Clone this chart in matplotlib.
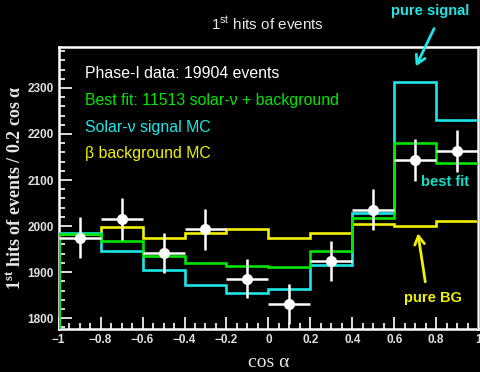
import numpy as np
import matplotlib
matplotlib.use("Agg")
import matplotlib.pyplot as plt
from matplotlib.ticker import MultipleLocator

bin_edges = [-1.0, -0.8, -0.6, -0.4, -0.2, 0.0, 0.2, 0.4, 0.6, 0.8, 1.0]
bin_centers = [-0.9, -0.7, -0.5, -0.3, -0.1, 0.1, 0.3, 0.5, 0.7, 0.9]
data_counts = [1975, 2015, 1942, 1993, 1886, 1831, 1924, 2036, 2143, 2163]
data_errors = [44, 45, 44, 45, 43, 43, 44, 45, 46, 46]
best_fit = [1983, 1967, 1935, 1920, 1913, 1911, 1946, 2018, 2180, 2138]
signal_mc = [1985, 1946, 1904, 1871, 1854, 1864, 1915, 2028, 2312, 2230]
background_mc = [1982, 1998, 1975, 1985, 1993, 1975, 1984, 2004, 2000, 2011]

CYAN = "#1ee6e6"
GREEN = "#00e600"
YELLOW = "#f0f000"
TURQ = "#10e0c8"
sans = ["Liberation Sans", "DejaVu Sans"]
serif = ["Liberation Serif", "DejaVu Serif"]

fig = plt.figure(figsize=(4.81, 3.72), dpi=100, facecolor="black")
ax = fig.add_axes([0.122, 0.115, 0.872, 0.760], facecolor="black")

lw = 1.9
ax.stairs(background_mc, bin_edges, color=YELLOW, lw=lw, zorder=2)
ax.stairs(signal_mc, bin_edges, color=CYAN, lw=lw, zorder=3)
ax.stairs(best_fit, bin_edges, color=GREEN, lw=lw, zorder=4)
ax.errorbar(bin_centers, data_counts, yerr=data_errors, xerr=0.1, fmt="o",
            color="white", ms=7, elinewidth=1.8, capsize=0, zorder=5)

ax.set_xlim(-1, 1)
ax.set_ylim(1776, 2390)
ax.xaxis.set_major_locator(MultipleLocator(0.2))
ax.xaxis.set_minor_locator(MultipleLocator(0.05))
ax.yaxis.set_major_locator(MultipleLocator(100))
ax.yaxis.set_minor_locator(MultipleLocator(20))
ax.tick_params(which="both", direction="in", colors="white", width=1.2,
               top=False, right=False, labelsize=8.5)
ax.tick_params(which="major", length=9)
ax.tick_params(which="minor", length=4.5)
ax.set_xticks([-1, -0.8, -0.6, -0.4, -0.2, 0, 0.2, 0.4, 0.6, 0.8, 1])
ax.set_xticklabels(["\u22121", "\u22120.8", "\u22120.6", "\u22120.4", "\u22120.2", "0",
                    "0.2", "0.4", "0.6", "0.8", "1"])
for lab in ax.get_xticklabels() + ax.get_yticklabels():
    lab.set_family(sans)
    lab.set_fontweight("bold")
    lab.set_color("#e0e0e0")
    lab.set_fontsize(8.5)
for s in ax.spines.values():
    s.set_color("white")
    s.set_linewidth(1.8)

ax.set_xlabel("cos \u03b1", family=serif, fontsize=14, color="#e8e8e8", labelpad=6)
ax.set_ylabel("1$^{\\mathregular{st}}$ hits of events / 0.2 cos \u03b1", family=serif,
              fontsize=13, color="#e8e8e8", fontweight="bold", labelpad=2)

fig.text(0.555, 0.935, "1$^{\\mathregular{st}}$ hits of events", family=sans,
         fontsize=11, color="#e8e8e8", ha="center", va="center")

leg_x = 0.063
fs = 11.4
ax.text(leg_x, 0.905, "Phase-I data: 19904 events", transform=ax.transAxes,
        color="white", family=sans, fontsize=fs, va="center")
ax.text(leg_x, 0.810, "Best fit: 11513 solar-\u03bd + background", transform=ax.transAxes,
        color=GREEN, family=sans, fontsize=fs, va="center")
ax.text(leg_x, 0.715, "Solar-\u03bd signal MC", transform=ax.transAxes,
        color=CYAN, family=sans, fontsize=fs, va="center")
ax.text(leg_x, 0.620, "\u03b2 background MC", transform=ax.transAxes,
        color=YELLOW, family=sans, fontsize=fs, va="center")

fig.text(0.895, 0.97, "pure signal", color=CYAN, family=sans, fontsize=10.5,
         fontweight="bold", ha="center", va="center")
ax.annotate("", xy=(0.862, 0.815), xytext=(0.905, 0.93), xycoords="figure fraction",
            textcoords="figure fraction", annotation_clip=False,
            arrowprops=dict(arrowstyle="->,head_length=0.6,head_width=0.35",
                            color=CYAN, lw=2))
fig.text(0.925, 0.51, "best fit", color=TURQ, family=sans, fontsize=10.5,
         fontweight="bold", ha="center", va="center")
fig.text(0.9, 0.2, "pure BG", color=YELLOW, family=sans, fontsize=10.5,
         fontweight="bold", ha="center", va="center")
ax.annotate("", xy=(0.868, 0.38), xytext=(0.885, 0.235), xycoords="figure fraction",
            textcoords="figure fraction", annotation_clip=False,
            arrowprops=dict(arrowstyle="->,head_length=0.6,head_width=0.35",
                            color=YELLOW, lw=2))

fig.savefig("out.png", dpi=100, facecolor="black")
